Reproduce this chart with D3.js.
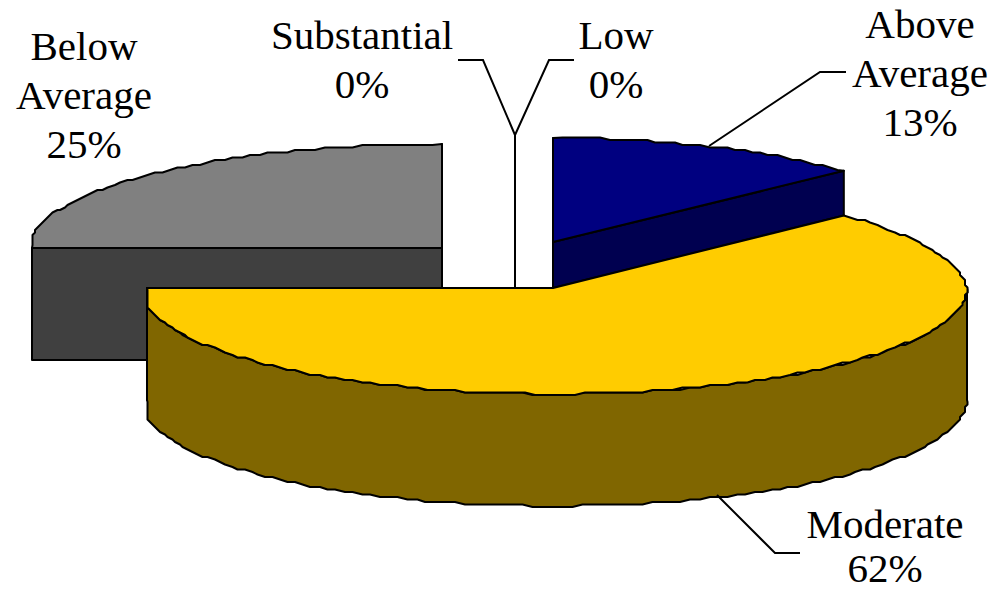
<!DOCTYPE html>
<html>
<head>
<meta charset="utf-8">
<script src="https://cdn.jsdelivr.net/npm/d3@7"></script>
<style>
  html, body { margin: 0; padding: 0; background: #fff; }
  svg { display: block; }
  text { font-family: "Liberation Serif", serif; font-size: 41px; fill: #000; text-anchor: middle; }
</style>
</head>
<body>
<div id="chart"></div>
<script>
// Survey shares, in drawing order clockwise from twelve o'clock
const categories = ["Above Average", "Moderate", "Below Average", "Substantial", "Low"];
const shares = [13, 62, 25, 0, 0];

// Label text per category, split over lines
const labelLines = [["Above", "Average"], ["Moderate"], ["Below", "Average"], ["Substantial"], ["Low"]];

const width = 992, height = 591;

// Exploded-pie layout: each slice has its own hub and left reach
const hubs = [[553, 242], [553, 288], [442, 248], [515, 239], [515, 239]];
const leftReach = [410, 406, 410, 410, 410];
const radiusY = [104, 106, 104, 104, 104];
const depth = 112;

const topFill = ["#000080", "#ffcc00", "#808080", "none", "none"];
const sideFill = ["#000050", "#806600", "#404040", "none", "none"];

// Where each label and its leader sit
const labelAnchor = [[920, 38], [885, 538], [84, 60], [362, 49], [616, 49]];
const lineStep = [49, 44, 49, 49, 49];
const leaders = [
  [[709, 146], [820, 72], [846, 72]],
  [[717, 495], [775, 553], [800, 553]],
  null,
  [[515, 135], [483, 60], [458, 60]],
  [[515, 135], [549, 60], [574, 60]]
];

const svg = d3.select("#chart").append("svg").attr("width", width).attr("height", height);

const pie = d3.pie().value(d => d).sort(null).startAngle(0).endAngle(2 * Math.PI);
const arcs = pie(shares);
const line = d3.line();

// Projects an angle on the tilted disc; the far right edge recedes slightly
function project(i, angle) {
  const [cx, cy] = hubs[i];
  const s = Math.sin(angle), c = Math.cos(angle);
  const rx = s >= 0 ? 414 - 22 * Math.max(0, c) : 412;
  return [Math.max(cx + rx * s, cx - leftReach[i]), cy - radiusY[i] * c];
}

// Samples a rim section, snapping inner samples to a grid for a plotted-edge look
function rim(i, a0, a1) {
  const n = Math.max(1, Math.round((a1 - a0) / (Math.PI / 130)));
  return d3.range(n + 1).map(k => {
    const p = project(i, a0 + (a1 - a0) * k / n);
    if (k === 0 || k === n) return p;
    return [Math.round(p[0] / 2.5) * 2.5, Math.round(p[1] / 2.5) * 2.5];
  });
}

const drop = pts => pts.map(([x, y]) => [x, y + depth]);

function shape(pts, fill) {
  svg.append("path")
    .attr("d", line(pts) + "Z")
    .attr("fill", fill)
    .attr("stroke", "#000")
    .attr("stroke-width", 2)
    .attr("stroke-linejoin", "round");
}

function drawSlice(i) {
  const d = arcs[i];
  const hub = hubs[i];
  const a0 = d.startAngle, a1 = d.endAngle;

  // Cut faces
  [a0, a1].forEach(a => {
    const p = project(i, a);
    shape([hub, p, [p[0], p[1] + depth], [hub[0], hub[1] + depth]], sideFill[i]);
  });

  // Outer wall along the part of the rim facing the viewer
  const from = Math.max(a0, Math.PI / 2), to = Math.min(a1, 3 * Math.PI / 2);
  if (to > from) {
    const edge = rim(i, from, to);
    shape(edge.concat(drop(edge).reverse()), sideFill[i]);
  }

  // Top surface
  shape([hub].concat(rim(i, a0, a1)), topFill[i]);
}

// Back slices first, the large front slice last
[2, 0, 3, 4, 1].forEach(drawSlice);

leaders.forEach(pts => {
  if (!pts) return;
  svg.append("path")
    .attr("d", line(pts))
    .attr("fill", "none")
    .attr("stroke", "#000")
    .attr("stroke-width", 2);
});

categories.forEach((name, i) => {
  const lines = labelLines[i].concat(d3.format("d")(shares[i]) + "%");
  const t = svg.append("text").attr("data-category", name);
  lines.forEach((s, k) => {
    t.append("tspan")
      .attr("x", labelAnchor[i][0])
      .attr("y", labelAnchor[i][1] + k * lineStep[i])
      .text(s);
  });
});
</script>
</body>
</html>
